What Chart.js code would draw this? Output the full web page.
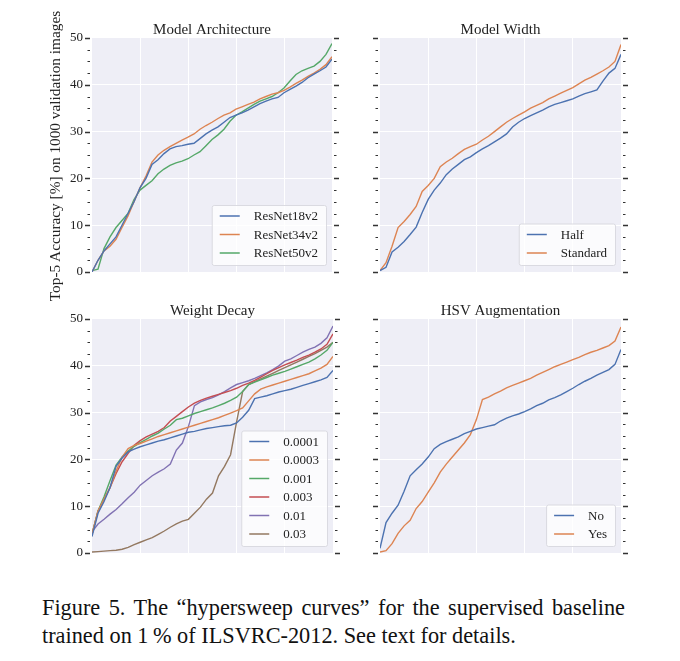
<!DOCTYPE html>
<html>
<head>
<meta charset="utf-8">
<script src="https://cdn.jsdelivr.net/npm/chart.js@4.4.1/dist/chart.umd.min.js"></script>
<style>
  html, body { margin: 0; padding: 0; background: #fff; }
  #page { position: relative; width: 680px; height: 661px; overflow: hidden;
          font-family: "Liberation Serif", "Times New Roman", serif; color: #222; }
  canvas { position: absolute; }
  #ylabel { position: absolute; left: -95px; top: 147px; width: 300px; height: 18px; line-height: 18px;
            text-align: center; font-size: 15.3px; transform: rotate(-90deg); white-space: nowrap; }
  #caption { position: absolute; left: 42px; top: 594px; width: 583px; font-size: 22.3px; line-height: 28px; color: #111; }
  #caption .l1 { text-align: justify; text-align-last: justify; }
</style>
</head>
<body>
<div id="page">
  <canvas id="c-arch" width="340" height="290" style="left:0;top:0"></canvas>
  <canvas id="c-width" width="340" height="290" style="left:340px;top:0"></canvas>
  <canvas id="c-wd" width="340" height="290" style="left:0;top:290px"></canvas>
  <canvas id="c-hsv" width="340" height="290" style="left:340px;top:290px"></canvas>
  <div id="ylabel">Top-5 Accuracy [%] on 1000 validation images</div>
  <div id="caption">
    <div class="l1">Figure 5. The “hypersweep curves” for the supervised baseline</div>
    <div class="l2">trained on 1&#8201;% of ILSVRC-2012. See text for details.</div>
  </div>
</div>
<script>
// x: position of the run in the sorted sweep (% of runs)
const runPct = [0,2.5,5,7.5,10,12.5,15,17.5,20,22.5,25,27.5,30,32.5,35,37.5,40,42.5,45,47.5,50,52.5,55,57.5,60,62.5,65,67.5,70,72.5,75,77.5,80,82.5,85,87.5,90,92.5,95,97.5,100];

// Model Architecture
const archLabels = ["ResNet18v2", "ResNet34v2", "ResNet50v2"];
const res18 = [0,2.5,4.5,6,7.5,10,12.5,15,18,20,23,24,25.3,26.3,26.8,27,27.3,27.5,28.5,29.5,30.3,31,32,33,33.5,34,34.6,35.3,36,36.5,37,37.3,38.3,39,39.7,40.5,41.5,42.3,43,43.8,45.5];
const res34 = [0,2.5,4.5,5.5,7,9.5,12,15,18,20.5,23.5,25,26,26.8,27.5,28.2,28.8,29.5,30.5,31.3,32,32.8,33.5,34,34.8,35.3,35.8,36.3,37,37.5,38,38.3,38.8,39.5,40.3,41,41.8,42.5,43.3,44.3,46];
const res50 = [0.3,0.6,5,7.5,9.5,11,12.5,15.5,17.5,18.5,19.5,21,22,22.8,23.3,23.7,24.2,25,25.7,27,28.3,29.3,30.5,32.2,33.5,34.2,35,35.8,36.5,37,37.5,38.3,39.3,40.8,42.2,43,43.5,44,45,46.5,48.8];

// Model Width
const widthLabels = ["Half", "Standard"];
const half = [0.3,1,4.3,5.3,6.5,8,9.6,12.7,15.5,17.5,19,20.8,22,23,24,24.6,25.5,26.3,27,27.8,28.6,29.5,31,32,32.8,33.4,34,34.6,35.3,35.8,36.2,36.6,37,37.6,38.1,38.5,38.9,40.8,42.5,43.5,46.5];
const standard = [0.3,2,5.5,9.5,10.8,12.3,14,17.2,18.5,20,22.5,23.5,24.3,25.3,26.2,26.8,27.3,28.2,29,30,31,32,32.8,33.5,34.2,35,35.6,36.2,37,37.6,38.2,38.8,39.4,40.2,41,41.6,42.3,43,43.8,45,48.6];

// Weight Decay
const wdLabels = ["0.0001", "0.0003", "0.001", "0.003", "0.01", "0.03"];
const wd0001 = [3.5,8.5,11,14,18.5,20.3,21.6,22.2,22.7,23.1,23.5,23.9,24.2,24.6,25,25.4,25.8,26,26.3,26.6,26.8,27,27.2,27.3,27.8,29,30.5,33,33.3,33.6,34,34.4,34.7,35,35.4,35.8,36.2,36.6,37,37.5,39];
const wd0003 = [4,9,11.5,14,17.5,20.5,22.3,23,23.4,23.9,24.4,24.9,25.3,25.7,26.1,26.5,26.9,27.3,27.7,28.1,28.5,28.9,29.4,29.9,30.4,31,32.5,34,35,35.5,35.9,36.3,36.7,37.1,37.5,37.9,38.3,38.9,39.5,40.3,42];
const wd001 = [4,9,12,15.5,18.8,20.5,21.8,22.8,23.6,24.3,25,25.6,26.5,27.3,28.5,28.8,29.3,29.8,30.2,30.6,31,31.5,32,32.6,33.3,34.5,36,36.5,37,37.5,38,38.4,38.8,39.3,39.8,40.3,40.8,41.5,42.3,43.3,45];
const wd003 = [4,9,11.5,14,17,19.5,21.3,23,24,24.8,25.4,26,26.8,28.2,29.2,30.2,31.2,32,32.6,33.1,33.5,33.9,34.3,34.7,35.2,35.8,36.3,36.9,37.6,38.3,39,39.6,40.2,40.7,41.2,41.8,42.3,42.9,43.6,44.6,46.8];
const wd01 = [4.5,6.2,7.2,8.3,9.3,10.5,11.8,13,14.5,15.5,16.5,17.3,18,19,22,23.5,27,31.5,32.3,32.8,33.2,33.8,34.5,35.3,36,36.4,36.8,37.3,37.9,38.5,39.2,40,41,41.5,42.2,42.9,43.5,44,44.8,46,48.5];
const wd03 = [0.2,0.3,0.4,0.5,0.6,0.8,1.2,1.8,2.3,2.8,3.3,4,4.7,5.5,6.2,6.8,7.2,8.5,9.8,11.5,12.8,16.5,18.5,21,28,34.5,36,36.6,37.2,37.8,38.4,39,39.6,40.2,40.8,41.4,42,42.6,43.3,44,45];

// HSV Augmentation
const hsvLabels = ["No", "Yes"];
const hsvNo = [1,6.5,8.5,10.2,13.2,16.5,17.8,19,20.5,22.3,23.2,23.8,24.3,24.8,25.5,26,26.5,26.8,27.1,27.4,28.2,28.8,29.3,29.7,30.2,30.8,31.5,32,32.7,33.2,33.8,34.5,35.2,36,36.7,37.3,38,38.6,39.2,40.3,43.5];
const hsvYes = [0.2,0.5,2,4.2,5.8,7,9.5,11,13,15,17.3,19,20.5,22,23.5,25.3,28.5,32.8,33.3,34,34.6,35.3,35.8,36.3,36.8,37.3,38,38.6,39.2,39.8,40.3,40.8,41.3,41.8,42.4,42.9,43.3,43.8,44.3,45.3,48.3];

// seaborn "deep"
const palette = ["#4C72B0", "#DD8452", "#55A868", "#C44E52", "#8172B3", "#937860"];
const SERIF = '"Liberation Serif", "Times New Roman", serif';

// 背景・タイトル・目盛り・凡例をまとめて描くプラグイン
const panelPlugin = {
  id: 'panel',
  beforeDraw(chart) {
    const { ctx, chartArea: a } = chart;
    ctx.save();
    ctx.fillStyle = '#EEEEF6';
    ctx.fillRect(a.left, a.top, a.right - a.left, a.bottom - a.top);
    ctx.restore();
  },
  afterDraw(chart, args, opts) {
    const { ctx, chartArea: a } = chart;
    ctx.save();

    // title
    ctx.fillStyle = '#222';
    ctx.font = '15px ' + SERIF;
    ctx.textAlign = 'center';
    ctx.textBaseline = 'alphabetic';
    ctx.fillText(opts.title, (a.left + a.right) / 2, a.top - 4.5);

    // tick dashes on both sides
    const ys = chart.scales.y;
    ctx.strokeStyle = '#333';
    ys.ticks.forEach(t => {
      const y = Math.round(ys.getPixelForValue(t.value)) + 0.5;
      const major = t.value % 10 === 0;
      const len = major ? 5 : 2.5;
      ctx.lineWidth = major ? 1.4 : 1.2;
      ctx.beginPath();
      ctx.moveTo(a.left - 2, y); ctx.lineTo(a.left - 2 - len, y);
      ctx.moveTo(a.right + 2, y); ctx.lineTo(a.right + 2 + len, y);
      ctx.stroke();
    });

    // legend (lower right)
    const sets = chart.data.datasets;
    ctx.font = '13px ' + SERIF;
    const textW = Math.max(...sets.map(d => ctx.measureText(d.label).width));
    const rowH = 18.5;
    const w = 8 + 20 + 14 + textW + 8;
    const h = 23 + (sets.length - 1) * rowH;
    const x0 = a.right - 6 - w;
    const y0 = a.bottom - 7 - h;
    ctx.fillStyle = 'rgba(255,255,255,0.75)';
    ctx.strokeStyle = 'rgba(215,215,222,0.9)';
    ctx.lineWidth = 1;
    ctx.beginPath();
    ctx.roundRect(x0 + 0.5, y0 + 0.5, w, h, 2);
    ctx.fill();
    ctx.stroke();
    ctx.textAlign = 'left';
    ctx.textBaseline = 'middle';
    sets.forEach((d, i) => {
      const cy = y0 + 11 + i * rowH;
      ctx.strokeStyle = d.borderColor;
      ctx.lineWidth = 1.5;
      ctx.beginPath();
      ctx.moveTo(x0 + 8, cy); ctx.lineTo(x0 + 28, cy);
      ctx.stroke();
      ctx.fillStyle = '#222';
      ctx.fillText(d.label, x0 + 42, cy + 1);
    });
    ctx.restore();
  }
};

function makeChart(id, pad, title, labels, series, showLabels) {
  return new Chart(document.getElementById(id), {
    type: 'line',
    data: {
      datasets: series.map((ys, i) => ({
        label: labels[i],
        data: runPct.map((x, j) => ({ x: x, y: ys[j] })),
        borderColor: palette[i],
        borderWidth: 1.4,
        pointRadius: 0,
        tension: 0,
        fill: false
      }))
    },
    options: {
      responsive: false,
      animation: false,
      layout: { padding: pad },
      plugins: {
        legend: { display: false },
        tooltip: { enabled: false },
        panel: { title: title }
      },
      scales: {
        x: {
          type: 'linear', min: 0, max: 100,
          ticks: { display: false, stepSize: 20 },
          grid: {
            drawTicks: false, lineWidth: 1,
            color: c => (c.tick && c.tick.value > 0 && c.tick.value < 100) ? '#ffffff' : 'transparent'
          },
          border: { display: false },
          afterFit: s => { s.height = 0; }
        },
        y: {
          min: 0, max: 50,
          afterFit: s => { s.width = 40; },
          ticks: {
            stepSize: 2.5, autoSkip: false, padding: 9, color: '#222',
            font: { family: SERIF, size: 13 },
            callback: v => (showLabels && v % 10 === 0) ? String(v) : ''
          },
          grid: {
            drawTicks: false, lineWidth: 1,
            color: c => (c.tick && c.tick.value % 10 === 0 && c.tick.value > 0 && c.tick.value < 50) ? '#ffffff' : 'transparent'
          },
          border: { display: false }
        }
      }
    },
    plugins: [panelPlugin]
  });
}

makeChart('c-arch', { left: 52, right: 8, top: 38, bottom: 18 }, 'Model Architecture', archLabels, [res18, res34, res50], true);
makeChart('c-width', { left: 0, right: 59, top: 38, bottom: 18 }, 'Model Width', widthLabels, [half, standard], false);
makeChart('c-wd', { left: 52, right: 7, top: 29, bottom: 27 }, 'Weight Decay', wdLabels, [wd0001, wd0003, wd001, wd003, wd01, wd03], true);
makeChart('c-hsv', { left: 0, right: 59, top: 29, bottom: 27 }, 'HSV Augmentation', hsvLabels, [hsvNo, hsvYes], false);
</script>
</body>
</html>
